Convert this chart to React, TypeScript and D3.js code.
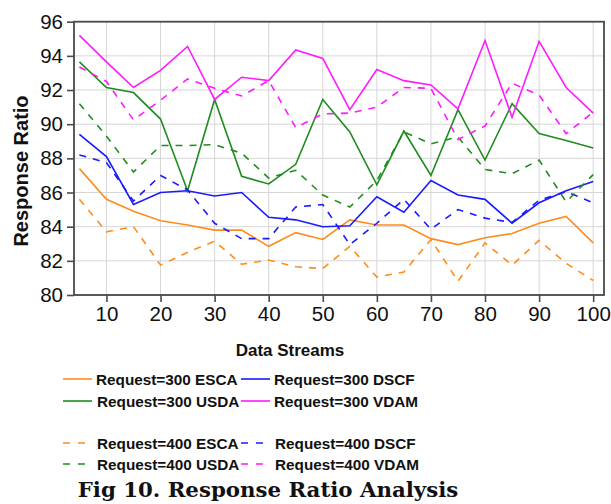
import React, { useEffect, useRef } from "react";
import * as d3 from "d3";

// data streams on the x axis
const streams = [5, 10, 15, 20, 25, 30, 35, 40, 45, 50, 55, 60, 65, 70, 75, 80, 85, 90, 95, 100];

const esca300 = [87.4, 85.6, 84.9, 84.35, 84.1, 83.8, 83.8, 82.85, 83.65, 83.25, 84.4, 84.1, 84.1, 83.3, 82.95, 83.35, 83.6, 84.2, 84.6, 83.05];
const dscf300 = [89.4, 88.1, 85.3, 86.0, 86.1, 85.8, 86.0, 84.55, 84.4, 84.0, 84.05, 85.75, 84.85, 86.7, 85.85, 85.6, 84.2, 85.4, 86.1, 86.65];
const usda300 = [93.65, 92.15, 91.85, 90.3, 86.1, 91.45, 86.95, 86.5, 87.65, 91.45, 89.55, 86.45, 89.6, 87.0, 90.85, 87.9, 91.2, 89.45, 89.05, 88.6];
const vdam300 = [95.2, 93.65, 92.15, 93.15, 94.55, 91.45, 92.75, 92.55, 94.35, 93.85, 90.85, 93.2, 92.55, 92.3, 90.9, 94.9, 90.4, 94.85, 92.15, 90.65];

const esca400 = [85.6, 83.7, 84.0, 81.75, 82.5, 83.15, 81.8, 82.05, 81.65, 81.55, 82.85, 81.05, 81.35, 83.25, 80.8, 83.05, 81.75, 83.2, 81.85, 80.85];
const dscf400 = [88.2, 87.75, 85.5, 87.0, 86.15, 84.2, 83.3, 83.3, 85.15, 85.3, 82.95, 84.2, 85.6, 83.85, 85.0, 84.5, 84.25, 85.55, 86.05, 85.4];
const usda400 = [91.2, 89.3, 87.2, 88.75, 88.75, 88.8, 88.3, 86.85, 87.3, 85.85, 85.15, 86.7, 89.55, 88.85, 89.25, 87.35, 87.1, 87.9, 85.45, 87.05];
const vdam400 = [93.35, 92.5, 90.25, 91.4, 92.65, 92.1, 91.65, 92.55, 89.8, 90.6, 90.65, 91.0, 92.15, 92.1, 89.1, 89.9, 92.4, 91.7, 89.45, 90.7];

const xTicks = [10, 20, 30, 40, 50, 60, 70, 80, 90, 100];
const yTicks = [80, 82, 84, 86, 88, 90, 92, 94, 96];

const colors = { ESCA: "#ff8c1a", DSCF: "#1a1aff", USDA: "#1f8c1f", VDAM: "#ff1aff" };

const series = [
  { name: "Request=300 ESCA", values: esca300, color: colors.ESCA, dashed: false },
  { name: "Request=300 DSCF", values: dscf300, color: colors.DSCF, dashed: false },
  { name: "Request=300 USDA", values: usda300, color: colors.USDA, dashed: false },
  { name: "Request=300 VDAM", values: vdam300, color: colors.VDAM, dashed: false },
  { name: "Request=400 ESCA", values: esca400, color: colors.ESCA, dashed: true },
  { name: "Request=400 DSCF", values: dscf400, color: colors.DSCF, dashed: true },
  { name: "Request=400 USDA", values: usda400, color: colors.USDA, dashed: true },
  { name: "Request=400 VDAM", values: vdam400, color: colors.VDAM, dashed: true },
];

const App = () => {
  const chartRef = useRef<HTMLDivElement>(null);

  useEffect(() => {
    document.body.style.margin = "0";
    d3.select(chartRef.current).selectAll("*").remove();

    const width = 611;
    const height = 504;
    const left = 74, right = 604, top = 21.7, bottom = 295;
    const font = "'Liberation Sans', Arial, sans-serif";

    const svg = d3
      .select(chartRef.current)
      .append("svg")
      .attr("width", width)
      .attr("height", height)
      .style("display", "block")
      .style("background", "#ffffff");

    const x = d3.scaleLinear().domain([4, 102]).range([left, right]);
    const y = d3.scaleLinear().domain([80, 96]).range([bottom, top]);

    // grid
    const grid = svg.append("g").attr("stroke", "#d6d6d6").attr("stroke-width", 1);
    grid
      .selectAll("line.v")
      .data(xTicks)
      .enter()
      .append("line")
      .attr("x1", (d) => x(d))
      .attr("x2", (d) => x(d))
      .attr("y1", top)
      .attr("y2", bottom);
    grid
      .selectAll("line.h")
      .data(yTicks)
      .enter()
      .append("line")
      .attr("x1", left)
      .attr("x2", right)
      .attr("y1", (d) => y(d))
      .attr("y2", (d) => y(d));

    // series lines
    const line = d3
      .line<number>()
      .x((_, i) => x(streams[i]))
      .y((d) => y(d));

    svg
      .append("g")
      .selectAll("path")
      .data(series)
      .enter()
      .append("path")
      .attr("d", (d) => line(d.values))
      .attr("fill", "none")
      .attr("stroke", (d) => d.color)
      .attr("stroke-width", 1.6)
      .attr("stroke-dasharray", (d) => (d.dashed ? "7,7" : null));

    // frame
    svg
      .append("rect")
      .attr("x", left)
      .attr("y", top)
      .attr("width", right - left)
      .attr("height", bottom - top)
      .attr("fill", "none")
      .attr("stroke", "#4a4a4a")
      .attr("stroke-width", 1.8);

    // axes
    const yAxis = svg
      .append("g")
      .attr("transform", `translate(${left},0)`)
      .call(d3.axisLeft(y).tickValues(yTicks).tickSize(7).tickPadding(4));
    const xAxis = svg
      .append("g")
      .attr("transform", `translate(0,${bottom})`)
      .call(d3.axisBottom(x).tickValues(xTicks).tickSize(7).tickPadding(4));

    [xAxis, yAxis].forEach((a) => {
      a.select(".domain").remove();
      a.selectAll(".tick line").attr("stroke", "#4a4a4a").attr("stroke-width", 1.6);
      a.selectAll(".tick text")
        .attr("fill", "#111")
        .style("font-family", font)
        .style("font-size", "20.5px");
    });

    // axis titles
    svg
      .append("text")
      .attr("transform", "translate(28,171) rotate(-90)")
      .attr("text-anchor", "middle")
      .style("font-family", font)
      .style("font-weight", "bold")
      .style("font-size", "20px")
      .attr("fill", "#111")
      .text("Response Ratio");

    svg
      .append("text")
      .attr("x", 290)
      .attr("y", 356)
      .attr("text-anchor", "middle")
      .style("font-family", font)
      .style("font-weight", "bold")
      .style("font-size", "17px")
      .attr("fill", "#111")
      .text("Data Streams");

    // legend
    const rowY = [379, 401, 443, 464];
    const colX = [63, 241];
    const legend = svg.append("g");
    series.forEach((s, i) => {
      const row = Math.floor(i / 2);
      const col = i % 2;
      const g = legend.append("g").attr("transform", `translate(${colX[col]},${rowY[row]})`);
      g.append("line")
        .attr("x1", 0)
        .attr("x2", s.dashed ? 23 : 29)
        .attr("y1", 0)
        .attr("y2", 0)
        .attr("stroke", s.color)
        .attr("stroke-width", 1.6)
        .attr("stroke-dasharray", s.dashed ? "7,8" : null);
      g.append("text")
        .attr("x", s.dashed ? 34 : col === 0 ? (row === 0 ? 33 : 34) : 33)
        .attr("y", 5.5)
        .style("font-family", font)
        .style("font-weight", "bold")
        .style("font-size", "15.3px")
        .attr("fill", "#111")
        .text(s.name);
    });

    // caption
    svg
      .append("text")
      .attr("x", 268)
      .attr("y", 497)
      .attr("text-anchor", "middle")
      .style("font-family", "'DejaVu Serif', serif")
      .style("font-weight", "bold")
      .style("font-size", "21.3px")
      .attr("fill", "#111")
      .text("Fig 10. Response Ratio Analysis");
  }, []);

  return <div ref={chartRef}></div>;
};

export default App;
